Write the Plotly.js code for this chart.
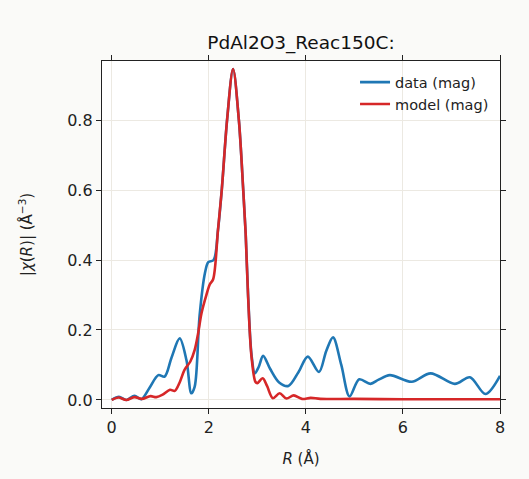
<!DOCTYPE html>
<html>
<head>
<meta charset="utf-8">
<script src="https://cdn.plot.ly/plotly-3.0.1.min.js"></script>
<style>html,body{margin:0;padding:0;background:#fafaf8;}</style>
</head>
<body>
<div id="chart" style="width:529px;height:479px;"></div>
<script>
const chartTitle = "PdAl2O3_Reac150C:";
const dataR = [0, 0.15, 0.3, 0.47, 0.61, 0.78, 0.96, 1.09, 1.23, 1.40, 1.54, 1.64, 1.71, 1.81, 1.92, 1.99, 2.1, 2.19, 2.27, 2.38, 2.5, 2.62, 2.71, 2.76, 2.81, 2.88, 2.95, 3.03, 3.12, 3.26, 3.45, 3.64, 3.85, 4.04, 4.27, 4.42, 4.56, 4.73, 4.9, 5.1, 5.33, 5.5, 5.73, 6.18, 6.57, 7.07, 7.38, 7.7, 8.0];
const dataMag = [0, 0.009, 0.0, 0.012, 0.002, 0.035, 0.071, 0.067, 0.12, 0.176, 0.114, 0.019, 0.038, 0.24, 0.362, 0.394, 0.40, 0.486, 0.605, 0.805, 0.946, 0.80, 0.60, 0.476, 0.30, 0.13, 0.076, 0.095, 0.126, 0.09, 0.05, 0.04, 0.08, 0.124, 0.08, 0.14, 0.179, 0.10, 0.01, 0.059, 0.046, 0.058, 0.071, 0.052, 0.076, 0.046, 0.065, 0.017, 0.069];
const modelR = [0, 0.14, 0.3, 0.47, 0.62, 0.8, 0.92, 1.05, 1.2, 1.3, 1.4, 1.5, 1.62, 1.71, 1.78, 1.85, 1.95, 2.02, 2.09, 2.19, 2.27, 2.38, 2.5, 2.62, 2.71, 2.76, 2.81, 2.88, 2.96, 3.0, 3.11, 3.2, 3.32, 3.46, 3.6, 3.75, 3.92, 4.1, 4.3, 5.0, 6.0, 7.0, 8.0];
const modelMag = [0, 0.007, 0.0, 0.008, 0.003, 0.011, 0.008, 0.015, 0.029, 0.026, 0.05, 0.086, 0.11, 0.143, 0.19, 0.248, 0.30, 0.33, 0.345, 0.486, 0.605, 0.805, 0.946, 0.80, 0.60, 0.476, 0.295, 0.124, 0.052, 0.048, 0.062, 0.04, 0.005, 0.019, 0.004, 0.013, 0.003, 0.006, 0.003, 0.003, 0.002, 0.002, 0.002];
const xTicks = [0, 2, 4, 6, 8];
const yTicks = [0.0, 0.2, 0.4, 0.6, 0.8];

const font = "DejaVu Sans, sans-serif";
const traces = [
  {x: dataR, y: dataMag, name: "data (mag)", mode: "lines",
   line: {color: "#1f77b4", width: 2.6, shape: "spline", smoothing: 0.9}},
  {x: modelR, y: modelMag, name: "model (mag)", mode: "lines",
   line: {color: "#d62728", width: 2.6, shape: "spline", smoothing: 0.9}}
];
const axisCommon = {
  showline: true, linecolor: "#222", linewidth: 1.2, mirror: "allticks",
  ticks: "outside", ticklen: 5, tickwidth: 1, tickcolor: "#222",
  showgrid: true, gridcolor: "#ece9e2", gridwidth: 1, zeroline: false,
  tickfont: {family: font, size: 16, color: "#222"}
};
const layout = {
  width: 529, height: 479,
  margin: {l: 102, r: 29, t: 61, b: 71},
  paper_bgcolor: "#fafaf8", plot_bgcolor: "#ffffff",
  showlegend: true,
  title: {text: chartTitle, font: {family: font, size: 18.5, color: "#111"},
          x: 0.5, xref: "paper", xanchor: "center", y: 1, yref: "paper", yanchor: "bottom", pad: {b: 12}},
  xaxis: Object.assign({}, axisCommon, {
    range: [-0.2, 8], tickvals: xTicks, ticktext: xTicks.map(String),
    title: {text: "<i>R</i> (Å)", font: {family: font, size: 15, color: "#222"}, standoff: 17}
  }),
  yaxis: Object.assign({}, axisCommon, {
    range: [-0.023, 0.969], tickvals: yTicks, ticktext: yTicks.map(v => v.toFixed(1)),
    title: {text: "|<i>χ</i>(<i>R</i>)| (Å<sup>−3</sup>)", font: {family: font, size: 15, color: "#222"}, standoff: 30}
  }),
  legend: {x: 0.985, y: 0.985, xanchor: "right", yanchor: "top", bgcolor: "rgba(0,0,0,0)",
           borderwidth: 0, font: {family: font, size: 14.5, color: "#222"}, tracegroupgap: 0}
};
Plotly.newPlot("chart", traces, layout, {displayModeBar: false, staticPlot: true});
</script>
</body>
</html>
